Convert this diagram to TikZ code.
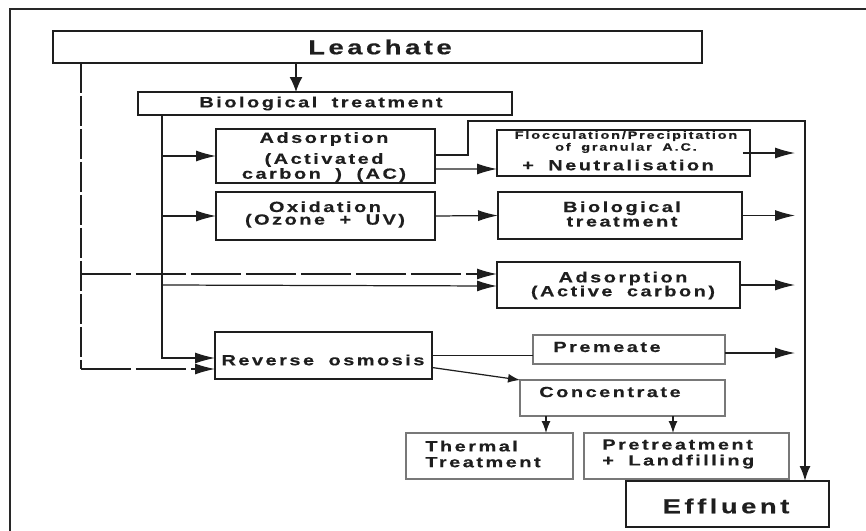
\documentclass[tikz,border=0pt]{standalone}
\usepackage{xcolor}
\usepackage{fontspec}
\usetikzlibrary{arrows.meta}
\newfontfamily\diafont[FakeStretch=1.35,LetterSpace=17,WordSpace=1.8,BoldFeatures={FakeBold=0.4}]{Liberation Sans}
\definecolor{framegray}{RGB}{40,40,40}
\definecolor{thingray}{RGB}{120,120,120}
\definecolor{inkblack}{RGB}{30,30,30}

\tikzset{
  procbox/.style={draw=inkblack, line width=1.4pt, inner sep=0pt, outer sep=0pt},
  lightbox/.style={draw=thingray, line width=0.7pt, inner sep=0pt, outer sep=0pt},
  lbl/.style={text=inkblack, font=\diafont\bfseries\fontsize{8.4}{7.2}\selectfont, align=center, inner sep=0pt},
  biglbl/.style={lbl, font=\diafont\bfseries\fontsize{11.6}{13}\selectfont},
  tinylbl/.style={lbl, font=\diafont\bfseries\fontsize{6.1}{6.8}\selectfont},
  flow/.style={draw=inkblack, line width=0.7pt, -{Latex[length=0.4cm,width=0.22cm]}},
  smallflow/.style={draw=inkblack, line width=0.7pt, -{Latex[length=0.24cm,width=0.18cm]}},
  dashflow/.style={flow, dash pattern=on 1cm off 0.1cm},
  thickdash/.style={draw=inkblack, line width=1.7pt, dash pattern=on 0.6cm off 0.06cm},
  plainline/.style={draw=inkblack, line width=0.7pt}
}

\begin{document}
\begin{tikzpicture}[x=0.02cm, y=-0.02cm]
  \useasboundingbox (0,0) rectangle (866,531);
  % outer frame
  \draw[framegray, line width=1pt] (10,531) -- (10,9) -- (866,9);

  % boxes
  \node[procbox, minimum width=12.98cm, minimum height=0.64cm] (leach) at (377.5,47) {};
  \node[biglbl] (leachtxt) at (380,47) {Leachate};
  \node[procbox, line width=1.1pt, minimum width=7.48cm, minimum height=0.46cm] (bio) at (325,103.5) {};
  \node[lbl] (biotxt) at (321,103.5) {Biological treatment};

  \node[procbox, minimum width=4.38cm, minimum height=1.08cm] (adsac) at (325.5,156) {};
  \node[lbl, font=\diafont\bfseries\fontsize{8.4}{8.5}\selectfont] (adsactxt) at (324,157) {Adsorption\\[3.4pt](Activated\\carbon ) (AC)};
  \node[procbox, minimum width=4.38cm, minimum height=0.96cm] (oxid) at (325.5,216) {};
  \node[lbl] (oxidtxt) at (325,214.5) {Oxidation\\(Ozone + UV)};

  \node[procbox, minimum width=5.06cm, minimum height=0.92cm] (floc) at (623.5,153) {};
  \node[tinylbl] (floctxt) at (626,142) {Flocculation/Precipitation\\of granular A.C.};
  \node[lbl] (neutxt) at (618,165) {+ Neutralisation};
  \node[procbox, minimum width=4.88cm, minimum height=0.94cm] (bio2) at (620,215.5) {};
  \node[lbl] (bio2txt) at (622,214) {Biological\\treatment};
  \node[procbox, minimum width=4.86cm, minimum height=0.92cm] (adsact) at (618.5,285) {};
  \node[lbl, font=\diafont\bfseries\fontsize{8.4}{7.9}\selectfont] (adsacttxt) at (623,285.5) {Adsorption\\(Active carbon)};

  \node[procbox, minimum width=4.34cm, minimum height=0.94cm] (ro) at (323.5,355.5) {};
  \node[lbl] (rotxt) at (323,360) {Reverse osmosis};
  \node[lightbox, minimum width=3.84cm, minimum height=0.58cm] (prem) at (629,349.5) {};
  \node[lbl] (premtxt) at (607,347) {Premeate};
  \node[lightbox, minimum width=4.10cm, minimum height=0.72cm] (conc) at (622.5,398) {};
  \node[lbl] (conctxt) at (610,392) {Concentrate};
  \node[lightbox, minimum width=3.34cm, minimum height=0.92cm] (therm) at (489.5,456) {};
  \node[lbl, align=left, anchor=west, font=\diafont\bfseries\fontsize{8.4}{9}\selectfont] (thermtxt) at (425,454) {Thermal\\Treatment};
  \node[lightbox, minimum width=4.10cm, minimum height=0.92cm] (pretr) at (686.5,456) {};
  \node[lbl, align=left, anchor=west, font=\diafont\bfseries\fontsize{8.4}{9}\selectfont] (pretrtxt) at (602,454) {Pretreatment\\+ Landfilling};
  \node[procbox, minimum width=4.06cm, minimum height=0.92cm] (effl) at (727.5,504) {};
  \node[biglbl] (effltxt) at (726,506) {Effluent};

  % helper columns and ends
  \coordinate (feed) at (296,0);
  \coordinate (trunk) at (162,0);
  \coordinate (bypass) at (81,0);
  \coordinate (outend) at (795,0);
  \coordinate (outx) at (805,0);
  \coordinate (rodash) at ([yshift=-0.27cm]ro.west);
  \coordinate (adsdash) at ([yshift=0.22cm]adsact.west);
  \coordinate (premout) at ([yshift=-0.07cm]prem.east);
  \coordinate (cx1) at (546,0);
  \coordinate (cx2) at (673,0);

  % leachate feed
  \draw[flow, -{Latex[length=0.3cm,width=0.26cm]}] (leach.south -| feed) -- (bio.north -| feed);

  % thin trunk from biological treatment
  \draw[flow] (bio.south -| trunk) |- ([yshift=-0.05cm]ro.west);
  \draw[flow] (trunk |- adsac.west) -- (adsac.west);
  \draw[flow] (trunk |- oxid.west) -- (oxid.west);
  \draw[flow] (trunk |- adsact.west) -- ([yshift=-0.02cm]adsact.west);

  % dashed bypass of the leachate
  \draw[thickdash] (leach.south -| bypass) -- (bypass |- rodash);
  \draw[dashflow] (bypass |- rodash) -- (rodash);
  \draw[dashflow] (bypass |- adsdash) -- (adsdash);

  % second stage
  \draw[flow] ([yshift=-0.26cm]adsac.east) -- ([yshift=-0.32cm]floc.west);
  \draw[plainline, line width=1.1pt, -{Latex[length=0.3cm,width=0.22cm]}] ([yshift=0.02cm]adsac.east) -- ++(33,0) -- ++(0,-34) -| (effl.north -| outx);
  \draw[flow] (oxid.east) -- (bio2.west);

  % to effluent
  \draw[flow] ([xshift=-0.14cm]floc.east) -- (floc.east -| outend);
  \draw[flow] (bio2.east) -- (bio2.east -| outend);
  \draw[flow] (adsact.east) -- (adsact.east -| outend);
  \draw[flow] (premout) -- (premout -| outend);

  % reverse osmosis products
  \draw[plainline] (ro.east) -- (ro.east -| prem.west);
  \draw[smallflow] ([yshift=-0.24cm]ro.east) -- (conc.north west);
  \draw[smallflow] (conc.south -| cx1) -- (therm.north -| cx1);
  \draw[smallflow] (conc.south -| cx2) -- (pretr.north -| cx2);
\end{tikzpicture}
\end{document}
